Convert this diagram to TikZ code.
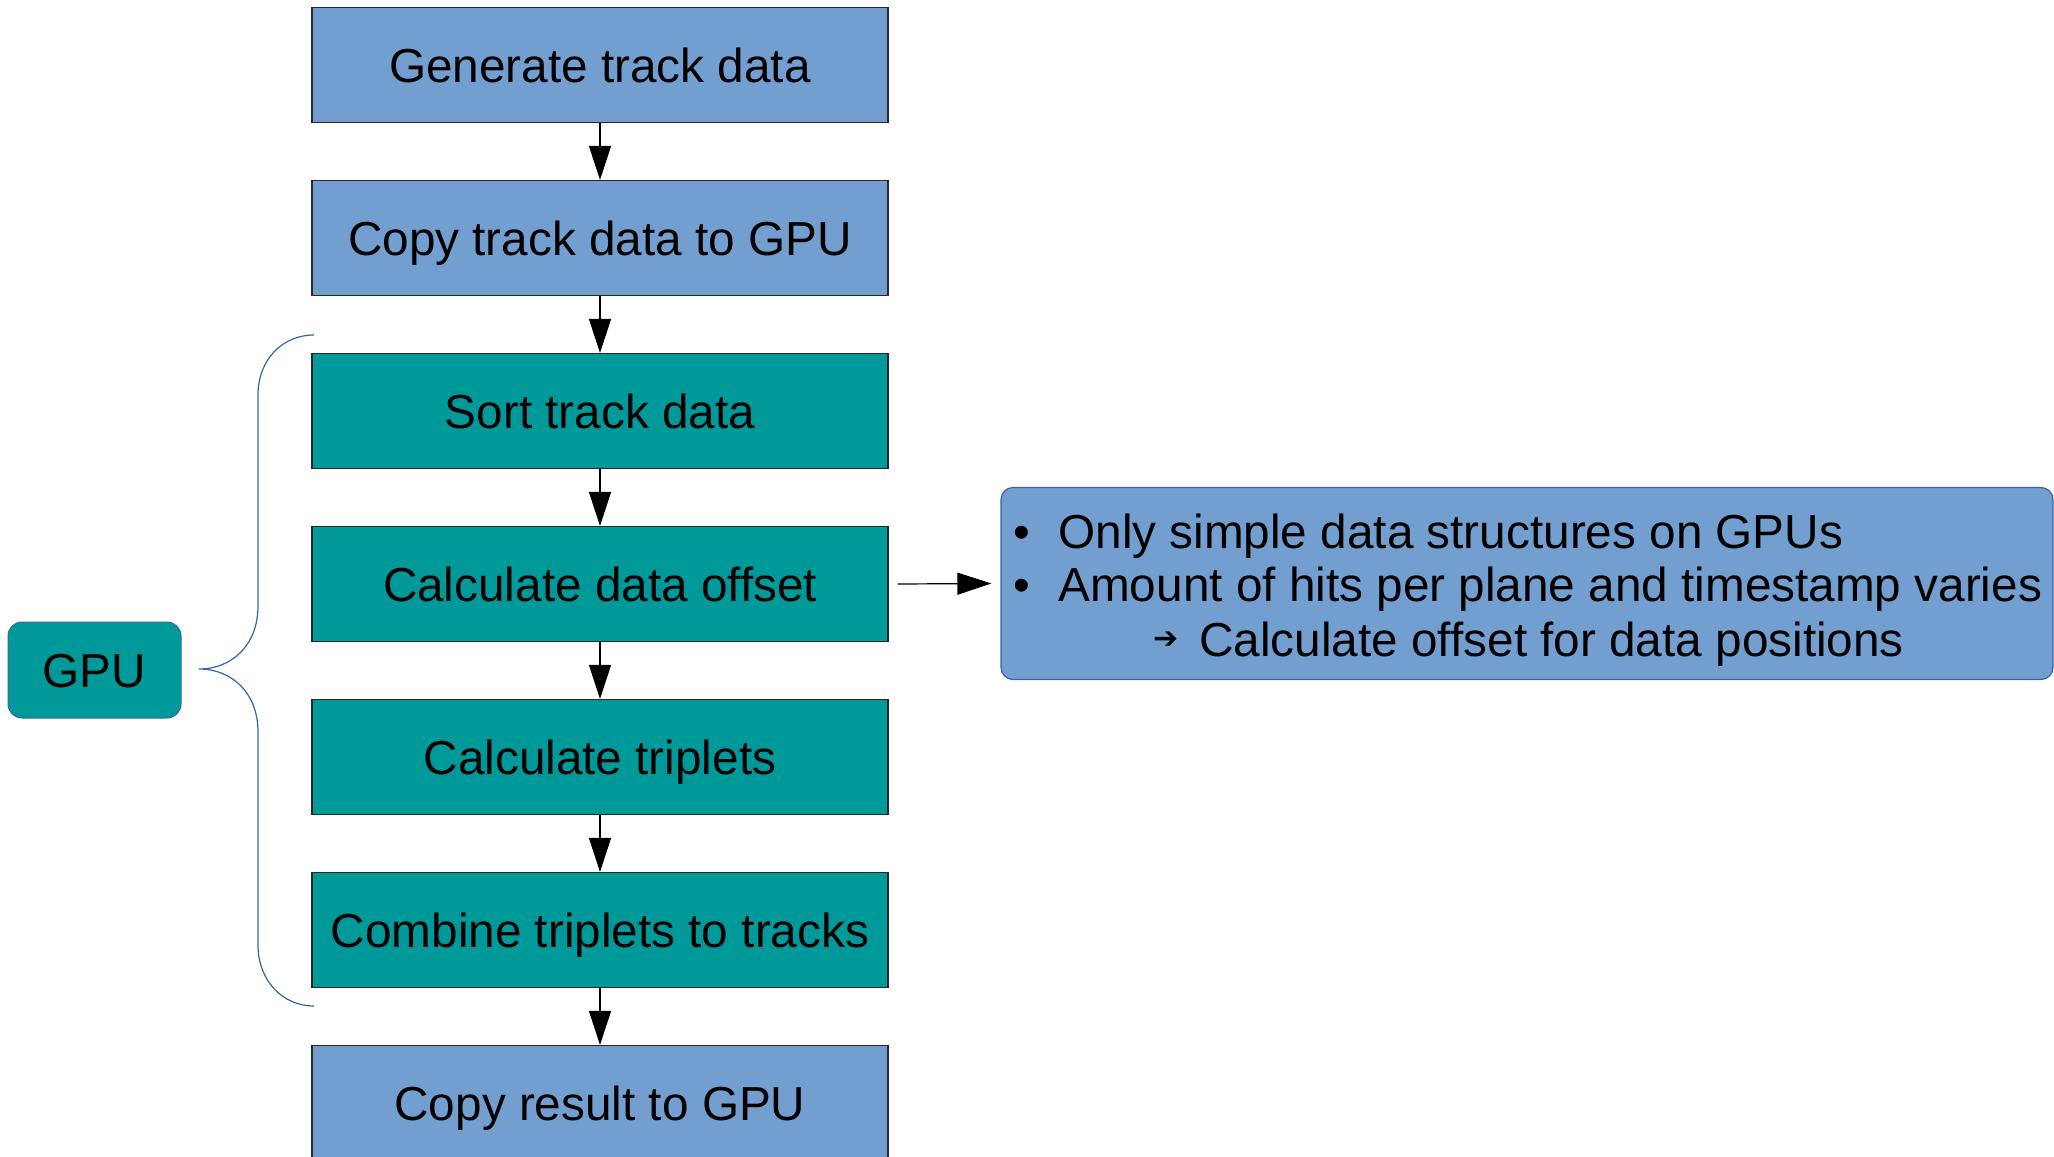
\documentclass[tikz,border=0pt]{standalone}
\usepackage{fontspec}
\setmainfont{Liberation Sans}
\newfontfamily\symfont{DejaVu Sans}
\usetikzlibrary{arrows.meta}

\definecolor{stepblue}{RGB}{114,159,207}
\definecolor{stepteal}{RGB}{0,153,153}
\definecolor{edgeblue}{RGB}{52,101,164}
\definecolor{boxline}{RGB}{40,40,40}

\tikzset{
  stepbox/.style={draw=boxline, line width=0.6pt, minimum width=288pt,
    minimum height=57.5pt, inner sep=0pt, align=center,
    text height=17.1pt, text depth=0pt,
    font=\fontsize{23.85}{27}\selectfont},
  hostbox/.style={stepbox, fill=stepblue},
  gpubox/.style={stepbox, fill=stepteal},
  flow/.style={line width=0.6pt, -{Triangle[length=17pt, width=11pt]}},
  notetext/.style={anchor=base west, inner sep=0pt,
    font=\fontsize{23.85}{27}\selectfont},
  brace/.style={draw=edgeblue, line width=0.6pt}
}

\begin{document}
\begin{tikzpicture}[x=0.5pt, y=-0.5pt]
\useasboundingbox (0,0) rectangle (2054,1156);
\begin{scope}
\clip (0,0) rectangle (2054,1156);

% processing steps
\node[hostbox] (gen)   at (600,65)   {Generate track data};
\node[hostbox] (copy)  at (600,238)  {Copy track data to GPU};
\node[gpubox]  (sort)  at (600,411)  {Sort track data};
\node[gpubox]  (off)   at (600,584)  {Calculate data offset};
\node[gpubox]  (trip)  at (600,757)  {Calculate triplets};
\node[gpubox]  (comb)  at (600,930)  {Combine triplets to tracks};
\node[hostbox] (res)   at (600,1103) {Copy result to GPU};

\draw[flow] (gen)  -- (copy);
\draw[flow] (copy) -- (sort);
\draw[flow] (sort) -- (off);
\draw[flow] (off)  -- (trip);
\draw[flow] (trip) -- (comb);
\draw[flow] (comb) -- (res);

% GPU label and brace
\node[draw=edgeblue, line width=0.5pt, fill=stepteal, rounded corners=7pt,
  minimum width=86.5pt, minimum height=48pt, inner sep=0pt,
  text height=17.1pt, text depth=0pt,
  font=\fontsize{23.85}{27}\selectfont] (gpu) at (94.5,670) {GPU};
\coordinate (tip) at (199,669);
\coordinate (btop) at (314,335);
\coordinate (bbot) at (314,1006);
\draw[brace] (btop) .. controls (282,335) and (258,360) .. (258,395)
  -- (258,606) .. controls (258,645) and (232,669) .. (tip)
  .. controls (232,669) and (258,693) .. (258,732)
  -- (258,945) .. controls (258,980) and (282,1006) .. (bbot);

% explanation box
\node[draw=edgeblue, line width=0.6pt, fill=stepblue, rounded corners=6pt,
  minimum width=526pt, minimum height=96pt, inner sep=0pt]
  (note) at (1527,583.5) {};
\node[notetext] (b1) at (1013,548) {•};
\node[notetext] (l1) at (1058,548) {Only simple data structures on GPUs};
\node[notetext] (b2) at (1013,601) {•};
\node[notetext] (l2) at (1058,601) {Amount of hits per plane and timestamp varies};
\node[anchor=base west, inner sep=0pt, font=\symfont\fontsize{15}{17}\selectfont]
  (ar) at (1153,648) {➔};
\node[notetext] (l3) at (1199,656) {Calculate offset for data positions};

\draw[flow] ([xshift=4.5pt]off.east) -- ([xshift=-4.5pt]note.west);
\end{scope}
\end{tikzpicture}
\end{document}
